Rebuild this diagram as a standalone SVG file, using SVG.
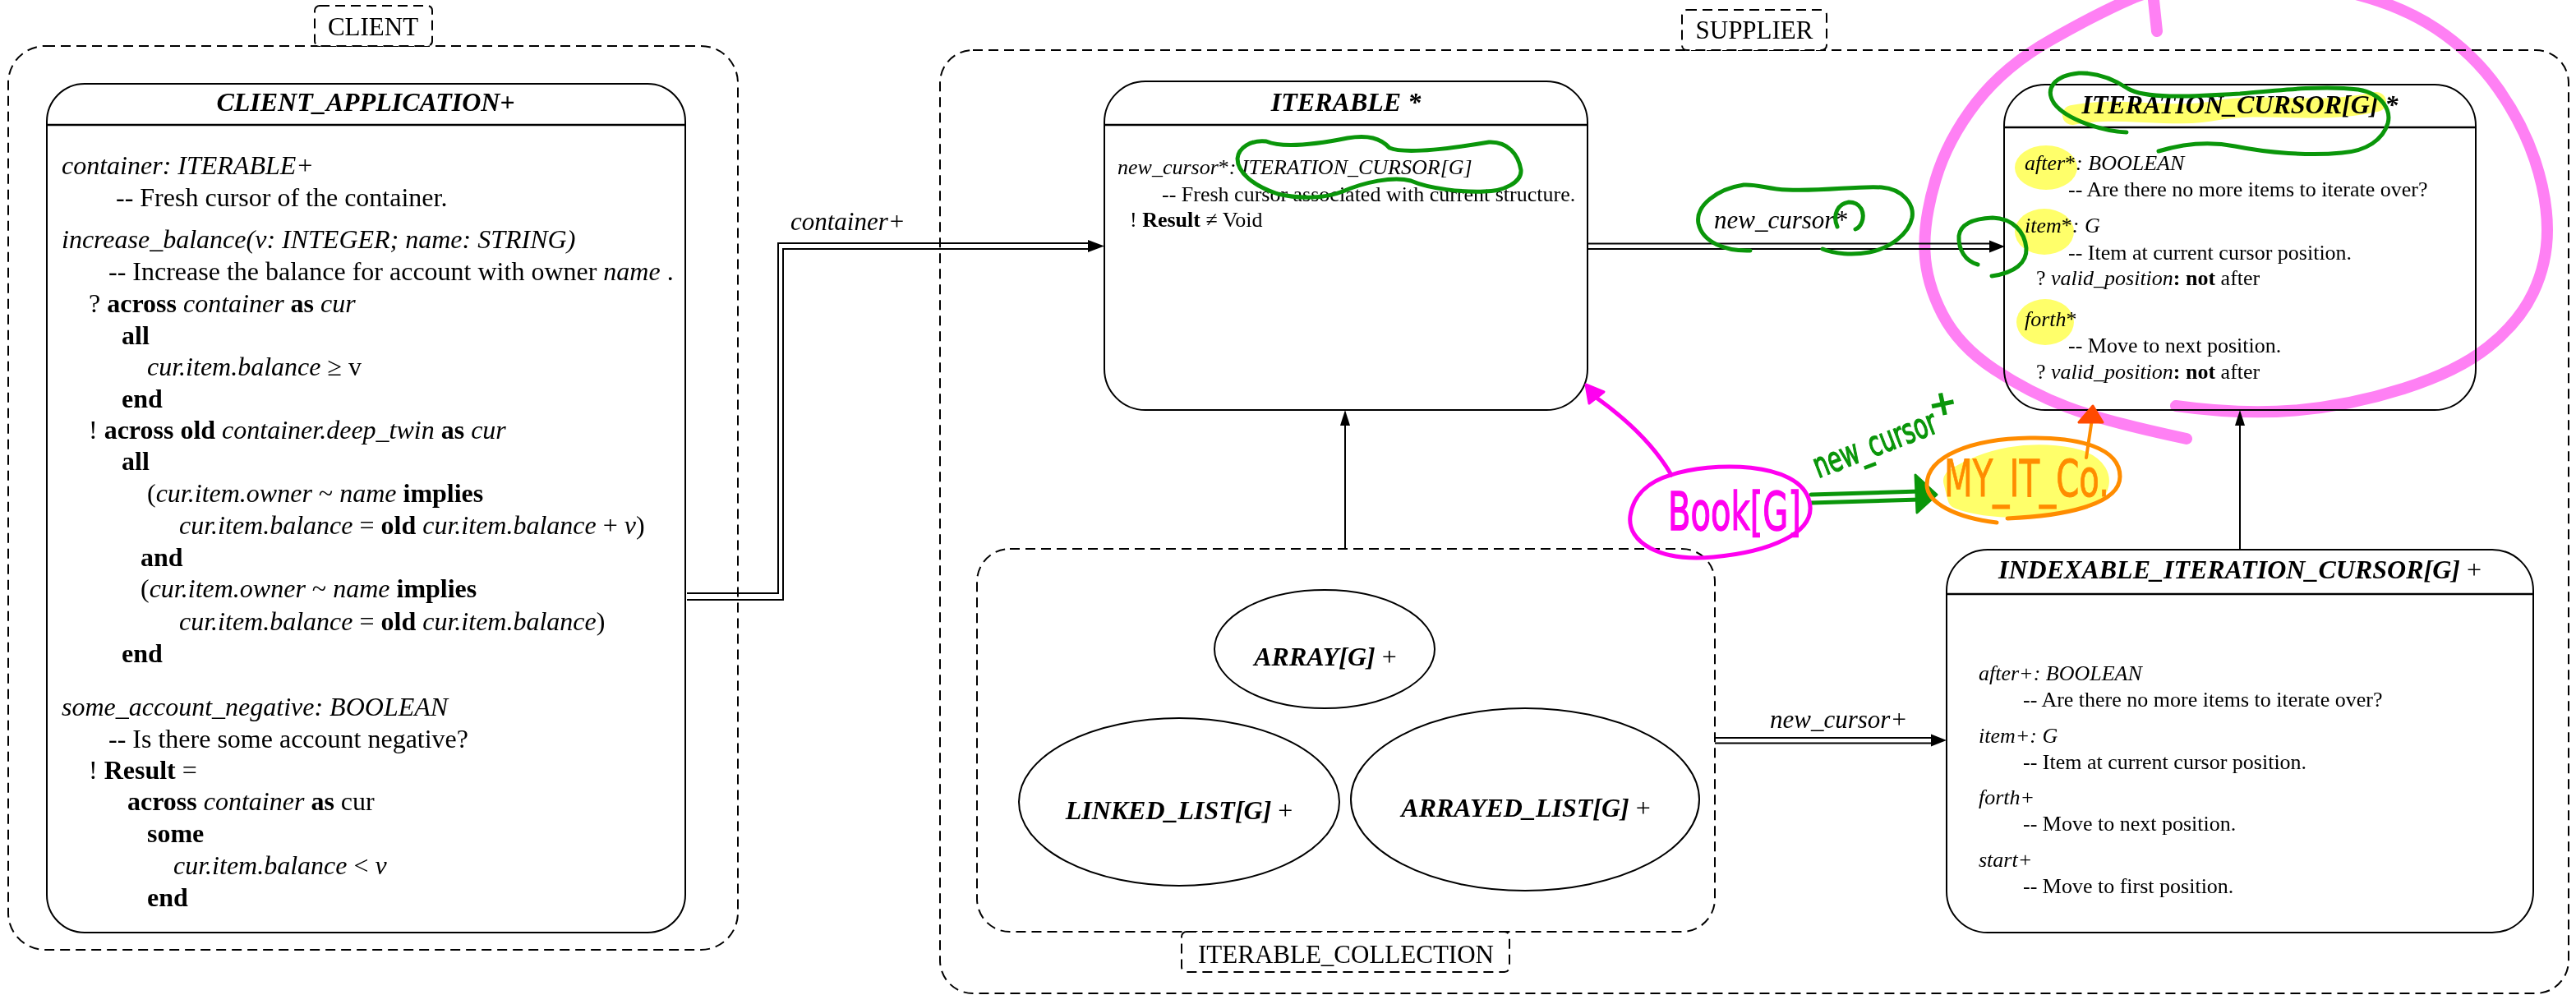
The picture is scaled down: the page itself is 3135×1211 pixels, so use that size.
<svg xmlns="http://www.w3.org/2000/svg" width="3135" height="1211" viewBox="0 0 3135 1211">
  <defs>
    <style>
      .box { fill: #fff; stroke: #000; stroke-width: 2; }
      .sep { stroke: #000; stroke-width: 2.5; }
      .cl { fill: none; stroke: #000; stroke-width: 2; stroke-dasharray: 12 7; }
      .clbox { fill: #fff; stroke: #000; stroke-width: 2; stroke-dasharray: 12 7; }
      .ell { fill: #fff; stroke: #000; stroke-width: 2; }
      .t { font-family: "Liberation Serif", "Times New Roman", serif; fill: #000; }
      .title { font-size: 32px; font-weight: bold; font-style: italic; text-anchor: middle; }
      .b1 { font-size: 32px; }
      .b2 { font-size: 26px; }
      .lbl { font-size: 31px; text-anchor: middle; }
      .elbl { font-size: 31px; font-style: italic; }
      .i { font-style: italic; }
      .bd { font-weight: bold; }
      .n { font-style: normal; font-weight: normal; }
      .edge { fill: none; stroke: #000; stroke-width: 2; }
      .head { fill: #000; stroke: none; }
      .hl { mix-blend-mode: multiply; }
      .hand { font-family: "DejaVu Sans", "Noto Sans", sans-serif; }
    </style>
  </defs>

  <!-- clusters -->
  <g id="cluster-client">
    <rect class="cl" x="10" y="56" width="888" height="1100" rx="45"/>
    <rect class="clbox" x="383" y="7" width="143" height="49" rx="6"/>
    <text class="t lbl" x="454" y="43">CLIENT</text>
  </g>
  <g id="cluster-supplier">
    <rect class="cl" x="1144" y="61" width="1982" height="1148" rx="40"/>
    <rect class="clbox" x="2047" y="12" width="176" height="49" rx="6"/>
    <text class="t lbl" x="2135" y="47">SUPPLIER</text>
  </g>
  <g id="cluster-iterable-collection">
    <rect class="cl" x="1189" y="668" width="898" height="466" rx="40"/>
    <rect class="clbox" x="1438" y="1134" width="399" height="49" rx="6"/>
    <text class="t lbl" x="1638" y="1172">ITERABLE_COLLECTION</text>
  </g>

  <!-- connectors -->
  <g id="connectors">
    <!-- container+ : CLIENT_APPLICATION -> ITERABLE -->
    <polyline class="edge" points="836,722 947,722 947,296 1326,296"/>
    <polyline class="edge" points="836,730 953,730 953,303 1326,303"/>
    <polygon class="head" points="1344,299.5 1324,292 1324,307"/>
    <text class="t elbl" x="962" y="280">container+</text>

    <!-- new_cursor* : ITERABLE -> ITERATION_CURSOR -->
    <line class="edge" x1="1932" y1="296.5" x2="2423" y2="296.5"/>
    <line class="edge" x1="1932" y1="303" x2="2423" y2="303"/>
    <polygon class="head" points="2440,300 2421,292.5 2421,307.5"/>
    <text class="t elbl" x="2086" y="278">new_cursor*</text>

    <!-- new_cursor+ : ITERABLE_COLLECTION -> INDEXABLE_ITERATION_CURSOR -->
    <line class="edge" x1="2087" y1="898" x2="2352" y2="898"/>
    <line class="edge" x1="2087" y1="904.5" x2="2352" y2="904.5"/>
    <polygon class="head" points="2369,901 2350,893.5 2350,908.5"/>
    <text class="t elbl" x="2154" y="886">new_cursor+</text>

    <!-- inheritance -->
    <line class="edge" x1="1637" y1="668" x2="1637" y2="515"/>
    <polygon class="head" points="1637,499 1631,518 1643,518"/>
    <line class="edge" x1="2726" y1="669" x2="2726" y2="515"/>
    <polygon class="head" points="2726,499 2720,518 2732,518"/>
  </g>

  <!-- CLIENT_APPLICATION -->
  <g id="client-application">
    <rect class="box" x="57" y="102" width="777" height="1033" rx="46"/>
    <line class="sep" x1="57" y1="152" x2="834" y2="152"/>
    <text class="t title" x="445" y="135">CLIENT_APPLICATION+</text>
    <g class="t b1">
      <text x="75" y="212" class="i">container: ITERABLE+</text>
      <text x="141" y="251">-- Fresh cursor of the container.</text>
      <text x="75" y="302" class="i">increase_balance(v: INTEGER; name: STRING)</text>
      <text x="132" y="341">-- Increase the balance for account with owner <tspan class="i">name</tspan> .</text>
      <text x="108" y="380">? <tspan class="bd">across</tspan> <tspan class="i">container</tspan> <tspan class="bd">as</tspan> <tspan class="i">cur</tspan></text>
      <text x="148" y="419" class="bd">all</text>
      <text x="179" y="457"><tspan class="i">cur.item.balance</tspan> ≥ v</text>
      <text x="148" y="496" class="bd">end</text>
      <text x="108" y="534">! <tspan class="bd">across old</tspan> <tspan class="i">container.deep_twin</tspan> <tspan class="bd">as</tspan> <tspan class="i">cur</tspan></text>
      <text x="148" y="572" class="bd">all</text>
      <text x="179" y="611">(<tspan class="i">cur.item.owner</tspan> ~ <tspan class="i">name</tspan> <tspan class="bd">implies</tspan></text>
      <text x="218" y="650"><tspan class="i">cur.item.balance</tspan> = <tspan class="bd">old</tspan> <tspan class="i">cur.item.balance</tspan> + <tspan class="i">v</tspan>)</text>
      <text x="171" y="689" class="bd">and</text>
      <text x="171" y="727">(<tspan class="i">cur.item.owner</tspan> ~ <tspan class="i">name</tspan> <tspan class="bd">implies</tspan></text>
      <text x="218" y="767"><tspan class="i">cur.item.balance</tspan> = <tspan class="bd">old</tspan> <tspan class="i">cur.item.balance</tspan>)</text>
      <text x="148" y="806" class="bd">end</text>
      <text x="75" y="871" class="i">some_account_negative: BOOLEAN</text>
      <text x="132" y="910">-- Is there some account negative?</text>
      <text x="108" y="948">! <tspan class="bd">Result</tspan> =</text>
      <text x="155" y="986"><tspan class="bd">across</tspan> <tspan class="i">container</tspan> <tspan class="bd">as</tspan> cur</text>
      <text x="179" y="1025" class="bd">some</text>
      <text x="211" y="1064"><tspan class="i">cur.item.balance</tspan> &lt; <tspan class="i">v</tspan></text>
      <text x="179" y="1103" class="bd">end</text>
    </g>
  </g>

  <!-- ITERABLE -->
  <g id="iterable">
    <rect class="box" x="1344" y="99" width="588" height="400" rx="50"/>
    <line class="sep" x1="1344" y1="152" x2="1932" y2="152"/>
    <text class="t title" x="1638" y="135">ITERABLE *</text>
    <g class="t b2">
      <text x="1360" y="212"><tspan class="i">new_cursor</tspan>*<tspan class="i">: ITERATION_CURSOR[G]</tspan></text>
      <text x="1414" y="245">-- Fresh cursor associated with current structure.</text>
      <text x="1375" y="276">! <tspan class="bd">Result</tspan> ≠ Void</text>
    </g>
  </g>

  <!-- ITERATION_CURSOR -->
  <g id="iteration-cursor">
    <rect class="box" x="2439" y="103" width="574" height="396" rx="50"/>
    <line class="sep" x1="2439" y1="155" x2="3013" y2="155"/>
    <text class="t title" x="2726" y="138">ITERATION_CURSOR[G] *</text>
    <g class="t b2">
      <text x="2464" y="207"><tspan class="i">after</tspan>*<tspan class="i">: BOOLEAN</tspan></text>
      <text x="2517" y="239">-- Are there no more items to iterate over?</text>
      <text x="2464" y="283"><tspan class="i">item</tspan>*<tspan class="i">: G</tspan></text>
      <text x="2517" y="316">-- Item at current cursor position.</text>
      <text x="2478" y="347">? <tspan class="i">valid_position</tspan><tspan class="bd">: not</tspan> after</text>
      <text x="2464" y="397"><tspan class="i">forth</tspan>*</text>
      <text x="2517" y="429">-- Move to next position.</text>
      <text x="2478" y="461">? <tspan class="i">valid_position</tspan><tspan class="bd">: not</tspan> after</text>
    </g>
  </g>

  <!-- INDEXABLE_ITERATION_CURSOR -->
  <g id="indexable-iteration-cursor">
    <rect class="box" x="2369" y="669" width="714" height="466" rx="50"/>
    <line class="sep" x1="2369" y1="723" x2="3083" y2="723"/>
    <text class="t title" x="2726" y="704">INDEXABLE_ITERATION_CURSOR[G] <tspan class="n">+</tspan></text>
    <g class="t b2">
      <text x="2408" y="828" class="i">after+: BOOLEAN</text>
      <text x="2462" y="860">-- Are there no more items to iterate over?</text>
      <text x="2408" y="904" class="i">item+: G</text>
      <text x="2462" y="936">-- Item at current cursor position.</text>
      <text x="2408" y="979" class="i">forth+</text>
      <text x="2462" y="1011">-- Move to next position.</text>
      <text x="2408" y="1055" class="i">start+</text>
      <text x="2462" y="1087">-- Move to first position.</text>
    </g>
  </g>

  <!-- collection classes -->
  <g id="array">
    <ellipse class="ell" cx="1612" cy="790" rx="134" ry="72"/>
    <text class="t title" x="1613" y="810">ARRAY[G] <tspan class="n">+</tspan></text>
  </g>
  <g id="linked-list">
    <ellipse class="ell" cx="1435" cy="976" rx="195" ry="102"/>
    <text class="t title" x="1435" y="997">LINKED_LIST[G] <tspan class="n">+</tspan></text>
  </g>
  <g id="arrayed-list">
    <ellipse class="ell" cx="1856" cy="973" rx="212" ry="111"/>
    <text class="t title" x="1857" y="994">ARRAYED_LIST[G] <tspan class="n">+</tspan></text>
  </g>

  <!-- hand-drawn markup -->
  <g id="markup">
    <!-- highlighter -->
    <g class="hl" fill="#ffff6a" stroke="none">
      <path d="M2522,140 C2580,128 2640,146 2700,134 C2760,124 2820,140 2892,124" fill="none" stroke="#ffff6a" stroke-width="24" stroke-linecap="round"/>
      <ellipse cx="2490" cy="204" rx="38" ry="27"/>
      <ellipse cx="2488" cy="282" rx="36" ry="28"/>
      <ellipse cx="2489" cy="392" rx="35" ry="28"/>
      <path d="M2380,585 C2420,560 2470,550 2520,560 C2550,566 2560,585 2545,600 C2500,620 2420,618 2385,605 Z" stroke="#ffff6a" stroke-width="30" stroke-linejoin="round"/>
    </g>
    <path class="hl" d="M2661,534 Q2562,513 2516,495.5 Q2470,478 2427,449.5 Q2384,421 2364,382.5 Q2344,344 2342.5,306 Q2341,268 2355.5,219 Q2370,170 2405,125 Q2440,80 2497,48 Q2555,15 2597,-3 Q2640,-20 2715,-22 Q2790,-25 2855,-10 Q2920,5 2965,35 Q3010,65 3040,107.5 Q3070,150 3085,195 Q3100,240 3100,280 Q3100,320 3083,356 Q3066,392 3028.5,422 Q2991,452 2925,473 Q2859,494 2793,499.5 Q2727,505 2648,494" fill="none" stroke="#ff80f4" stroke-width="14" stroke-linecap="round"/>
    <path class="hl" d="M2621,0 L2625,38" fill="none" stroke="#ff80f4" stroke-width="14" stroke-linecap="round"/>

    <!-- green pen -->
    <g fill="none" stroke="#0a960a" stroke-width="5" stroke-linecap="round" stroke-linejoin="round">
      <path d="M1541,172 C1560,180 1600,176 1640,168 C1665,164 1680,168 1691,180 C1710,188 1770,180 1812,173 C1835,172 1848,188 1851,207 C1852,222 1830,233 1806,233 C1780,234 1740,230 1717,220 C1695,214 1660,222 1634,233 C1612,242 1580,242 1555,236 C1525,226 1506,210 1506,193 C1507,180 1522,170 1541,172"/>
      <path d="M2130,305 C2100,306 2072,295 2067,272 C2063,250 2090,230 2122,225 C2140,224 2150,230 2175,231 C2220,233 2260,226 2290,228 C2315,230 2330,248 2327,265 C2323,285 2300,302 2275,307 C2255,311 2232,309 2218,303"/>
      <path d="M2236,276 C2230,262 2236,248 2250,246 C2264,246 2270,258 2266,270 C2264,275 2261,278 2258,279"/>
      <path d="M2407,322 C2392,318 2383,304 2384,287 C2386,272 2402,266 2425,265 C2450,266 2464,282 2466,302 C2467,320 2452,332 2424,336"/>
      <path d="M2588,161 C2560,160 2515,146 2500,126 C2488,108 2500,92 2530,89 C2555,88 2575,98 2590,108 C2610,120 2660,118 2726,114 C2780,109 2830,104 2870,109 C2900,114 2910,135 2906,150 C2900,170 2880,184 2850,186 C2810,190 2760,186 2720,178 C2690,172 2660,174 2627,184"/>
      <!-- new_cursor arrow to the other class -->
      <path d="M2204,602 L2336,598 M2204,612 L2336,608"/>
    </g>
    <polygon points="2331,578 2357,602 2333,624" fill="#0a960a" stroke="#0a960a" stroke-width="3" stroke-linejoin="round"/>
    <text class="hand" x="2213" y="582" font-size="42" fill="#0a960a" stroke="#0a960a" stroke-width="1.5" textLength="158" lengthAdjust="spacingAndGlyphs" transform="rotate(-21 2213 582)">new_cursor</text>
    <text class="hand" x="2347" y="505" font-size="40" fill="#0a960a" stroke="#0a960a" stroke-width="2" transform="rotate(-12 2360 490)">+</text>

    <!-- magenta pen -->
    <g fill="none" stroke="#ff00f0" stroke-width="5" stroke-linecap="round" stroke-linejoin="round">
      <path d="M2034,578 C2080,562 2190,560 2202,610 C2212,650 2150,672 2085,678 C2020,684 1980,660 1984,628 C1988,600 2010,585 2034,578"/>
      <path d="M2034,578 Q2005,528 1940,482"/>
    </g>
    <polygon points="1930,468 1952,477 1934,491" fill="#ff00f0" stroke="#ff00f0" stroke-width="3" stroke-linejoin="round"/>
    <text class="hand" x="2030" y="645" font-size="64" fill="#ff00f0" stroke="#ff00f0" stroke-width="1.5" textLength="162" lengthAdjust="spacingAndGlyphs">Book[G]</text>

    <!-- orange pen -->
    <path d="M2443,631 C2510,628 2580,615 2580,580 C2580,545 2530,532 2470,533 C2400,534 2345,555 2345,590 C2345,612 2380,630 2430,636" fill="none" stroke="#ff8c00" stroke-width="5" stroke-linecap="round"/>
    <text class="hand" x="2366" y="604" font-size="62" fill="#ff8c00" stroke="#ff8c00" stroke-width="1" textLength="201" lengthAdjust="spacingAndGlyphs">MY_IT_Co.</text>
    <path d="M2539,557 L2546,510" fill="none" stroke="#ff8c00" stroke-width="4" stroke-linecap="round"/>
    <polygon points="2547,494 2530,514 2559,514" fill="#ff4a00" stroke="#ff4a00" stroke-width="3" stroke-linejoin="round"/>
  </g>
</svg>
